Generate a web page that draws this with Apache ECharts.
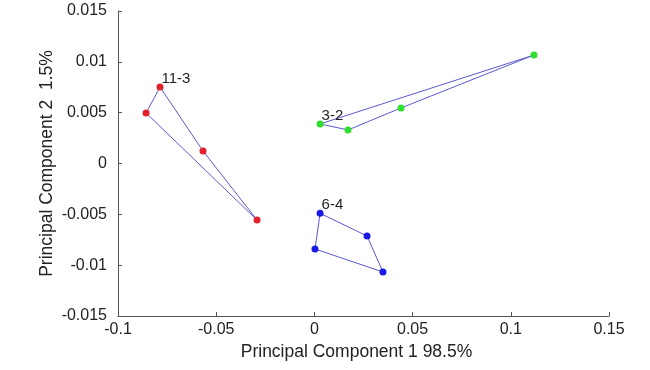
<!DOCTYPE html>
<html>
<head>
<meta charset="utf-8">
<script src="https://cdn.jsdelivr.net/npm/echarts@6/dist/echarts.min.js"></script>
<style>html,body{margin:0;padding:0;background:#fff}#c{width:650px;height:370px}</style>
</head>
<body>
<div id="c"></div>
<script>
// Group 11-3 (red), points in polygon order
const redX = [-0.0786, -0.0857, -0.0292, -0.0567];
const redY = [0.00752, 0.00497, -0.00556, 0.00123];
// Group 3-2 (green)
const greenX = [0.0029, 0.0171, 0.0441, 0.1118];
const greenY = [0.00389, 0.00330, 0.00546, 0.01067];
// Group 6-4 (blue)
const blueX = [0.0029, 0.0268, 0.0349, 0.0003];
const blueY = [-0.0049, -0.00713, -0.01067, -0.00841];

const groupNames = ['11-3', '3-2', '6-4'];
const xTicks = [-0.1, -0.05, 0, 0.05, 0.1, 0.15];
const yTicks = [-0.015, -0.01, -0.005, 0, 0.005, 0.01, 0.015];
const xName = 'Principal Component 1 98.5%';
const yName = 'Principal Component 2  1.5%';

const groups = [
  {name: groupNames[0], xs: redX, ys: redY, color: '#e3202b'},
  {name: groupNames[1], xs: greenX, ys: greenY, color: '#2fe02f'},
  {name: groupNames[2], xs: blueX, ys: blueY, color: '#1a1ae6'}
];

const fmt = v => String(parseFloat(Number(v).toFixed(4)));
const series = [];
groups.forEach(g => {
  const pts = g.xs.map((x, i) => [x, g.ys[i]]);
  series.push({
    type: 'line', data: pts.concat([pts[0]]), symbol: 'none', silent: true,
    lineStyle: {color: '#5a5ad2', width: 1}, z: 2, animation: false
  });
  series.push({
    type: 'scatter', data: pts, symbolSize: 7, z: 3, animation: false,
    itemStyle: {color: g.color, opacity: 1},
    label: {
      show: true, position: 'right', distance: 0, offset: [-2, -8],
      fontFamily: 'Liberation Sans', fontSize: 15, color: '#222',
      formatter: p => (p.dataIndex === 0 ? g.name : '')
    }
  });
});

const axisCommon = {
  axisLine: {show: true, onZero: false, lineStyle: {color: '#555', width: 1}},
  axisTick: {show: true, inside: true, length: 4, lineStyle: {color: '#555'}},
  splitLine: {show: false},
  axisLabel: {fontFamily: 'Liberation Sans', fontSize: 16, color: '#222', formatter: fmt},
  nameLocation: 'middle',
  nameMoveOverlap: false,
  nameTextStyle: {fontFamily: 'Liberation Sans', fontSize: 17.5, color: '#222'}
};

const chart = echarts.init(document.getElementById('c'), null, {renderer: 'canvas'});
chart.setOption({
  animation: false,
  backgroundColor: '#fff',
  grid: {left: 118, right: 41, top: 11, bottom: 54},
  xAxis: Object.assign({}, axisCommon, {
    type: 'value', min: xTicks[0], max: xTicks[xTicks.length - 1], interval: 0.05,
    name: xName, nameGap: 27,
    nameTextStyle: Object.assign({}, axisCommon.nameTextStyle, {padding: [0, 14, 0, 0]}),
    axisLabel: Object.assign({}, axisCommon.axisLabel, {margin: 6, showMinLabel: true, showMaxLabel: true})
  }),
  yAxis: Object.assign({}, axisCommon, {
    type: 'value', min: yTicks[0], max: yTicks[yTicks.length - 1], interval: 0.005,
    name: yName, nameGap: 62,
    axisLabel: Object.assign({}, axisCommon.axisLabel, {margin: 11, showMinLabel: true, showMaxLabel: true})
  }),
  series: series
});
</script>
</body>
</html>
